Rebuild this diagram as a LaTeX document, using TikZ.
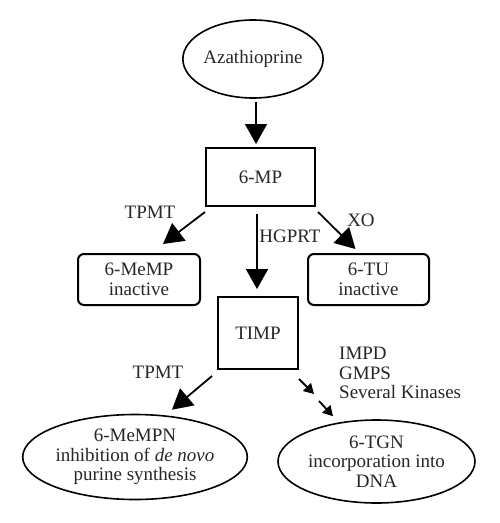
\documentclass[tikz,border=0pt]{standalone}
\usepackage{fontspec}
\setmainfont{Liberation Serif}
\usetikzlibrary{shapes.geometric,arrows.meta,calc}
\begin{document}
\begin{tikzpicture}[x=1pt,y=-1pt,
  txt/.style={font=\fontsize{19}{19.5}\selectfont, text=black!85, align=center, inner sep=0pt},
  ell/.style={txt, ellipse, draw, line width=1.6pt, inner sep=0pt},
  sqbox/.style={txt, rectangle, draw, line width=2pt},
  rbox/.style={txt, rectangle, rounded corners=6pt, draw, line width=2pt},
  bigarr/.style={line width=1.8pt, -{Triangle[length=20pt,width=22pt]}},
  smallarr/.style={line width=1.8pt, -{Triangle[length=10pt,width=11pt]}},
  lbl/.style={txt}
]
\useasboundingbox (0,0) rectangle (500,523);
\node[ell, minimum width=134pt, minimum height=78pt] (aza) at (253,59) {Azathioprine};
\node[sqbox, minimum width=109pt, minimum height=58pt] (mp) at (260.5,177) {6-MP};
\node[rbox, minimum width=122pt, minimum height=51pt] (memp) at (139,279.5) {6-MeMP\\inactive};
\node[rbox, minimum width=121pt, minimum height=51pt] (tu) at (368.5,279.5) {6-TU\\inactive};
\node[sqbox, minimum width=80pt, minimum height=72pt] (timp) at (258,333) {TIMP};
\node[ell, minimum width=196pt, minimum height=85pt] (mempn) at (135,457) {6-MeMPN\\inhibition of \textit{de novo}\\purine synthesis};
\node[ell, minimum width=197pt, minimum height=83pt] (tgn) at (376.5,461.5) {6-TGN\\incorporation into\\DNA};

\node[lbl] (l1) at (150,212) {TPMT};
\node[lbl] (l2) at (290,236) {HGPRT};
\node[lbl] (l3) at (361,220) {XO};
\node[lbl] (l4) at (158,372) {TPMT};
\node[lbl, align=left, anchor=west] (l5) at (339,373) {IMPD\\GMPS\\Several Kinases};

\draw[bigarr] ([xshift=3pt,yshift=-3pt]aza.south) -- ([xshift=-4.5pt,yshift=3pt]mp.north);
\draw[bigarr] ([yshift=-5pt]mp.south west) -- ([xshift=24pt,yshift=9pt]memp.north);
\draw[bigarr] ([xshift=-3.5pt,yshift=-7pt]mp.south) -- ([xshift=-1pt,yshift=7pt]timp.north);
\draw[bigarr] ([xshift=2pt,yshift=-5pt]mp.south east) -- ([xshift=-13pt,yshift=4pt]tu.north);
\draw[bigarr] ([xshift=-5pt,yshift=-6pt]timp.south west) -- ([xshift=37pt,yshift=4pt]mempn.north);
\coordinate (m1) at ([xshift=15pt,yshift=-24pt]timp.south east);
\coordinate (m2) at ([xshift=20pt,yshift=-31pt]timp.south east);
\draw[smallarr] ([yshift=-9pt]timp.south east) -- (m1);
\draw[smallarr] (m2) -- ([xshift=-43.5pt,yshift=3pt]tgn.north);
\end{tikzpicture}
\end{document}
